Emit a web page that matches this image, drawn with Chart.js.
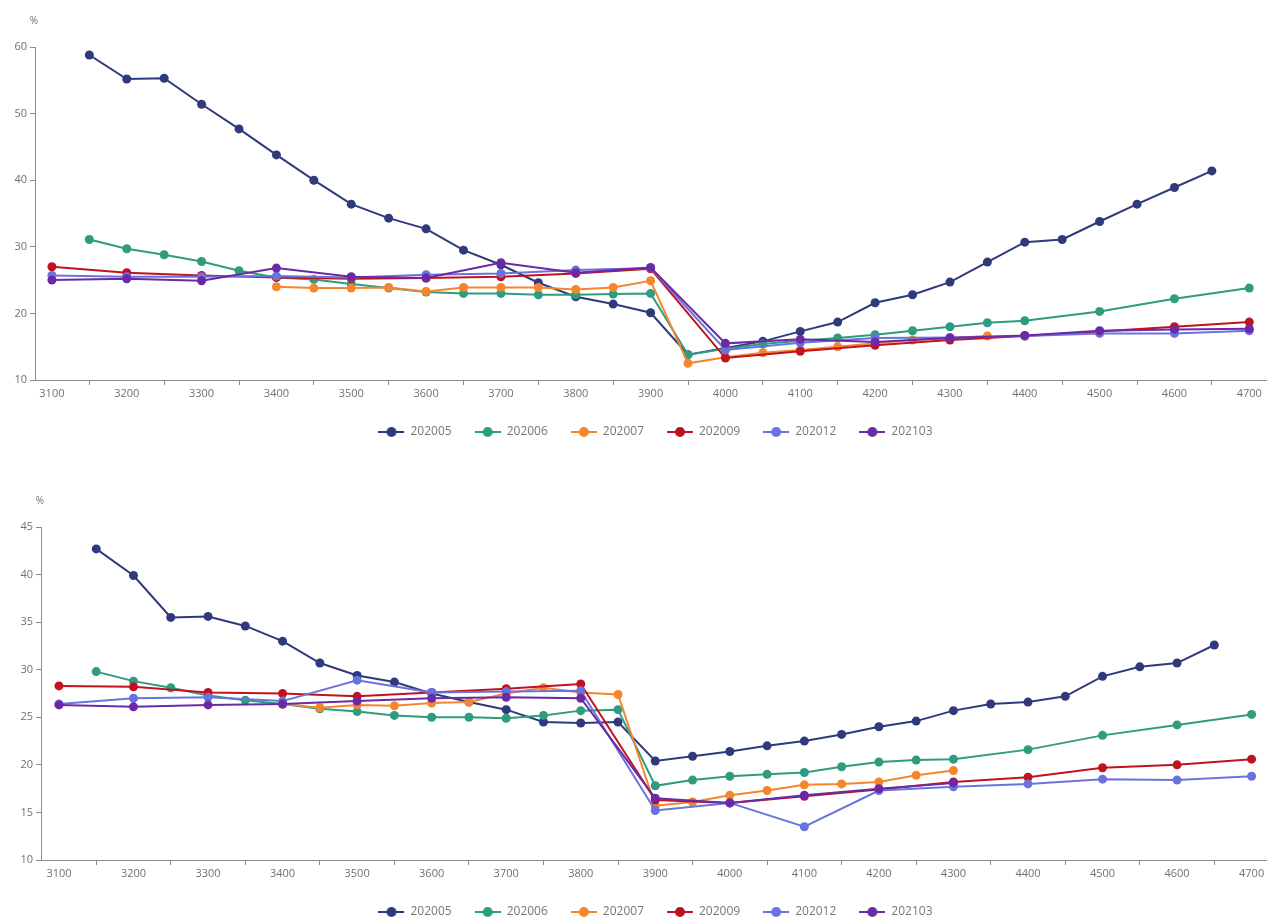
<!DOCTYPE html>
<html>
<head>
<meta charset="utf-8">
<script src="https://cdn.jsdelivr.net/npm/chart.js@4.4.1/dist/chart.umd.min.js"></script>
<style>
  html, body { margin: 0; padding: 0; background: #fff; overflow: hidden; width: 1271px; height: 918px; }
  .box { position: absolute; left: 0; width: 1271px; height: 448px; }
  #top { top: 0; }
  #bottom { top: 480px; }
</style>
</head>
<body>
<div class="box" id="top"><canvas id="chartTop"></canvas></div>
<div class="box" id="bottom"><canvas id="chartBottom"></canvas></div>
<script>
// Strike levels along the x axis (every 50; labels shown every 100)
const strikes = [3100, 3150, 3200, 3250, 3300, 3350, 3400, 3450, 3500, 3550, 3600, 3650,
                 3700, 3750, 3800, 3850, 3900, 3950, 4000, 4050, 4100, 4150, 4200, 4250,
                 4300, 4350, 4400, 4450, 4500, 4550, 4600, 4650, 4700];

const seriesNames = ['202005', '202006', '202007', '202009', '202012', '202103'];
const seriesColors = ['#2f3a7c', '#2e9c7e', '#f5862b', '#c1121f', '#6a73dd', '#6b2aa5'];

const yTicksTop = [10, 20, 30, 40, 50, 60];
const yTicksBottom = [10, 15, 20, 25, 30, 35, 40, 45];

// Upper panel (values in %, one slot per strike, null = no quote)
const top202005 = [null, 58.8, 55.2, 55.3, 51.4, 47.7, 43.8, 40.0, 36.4, 34.3, 32.7, 29.5,
                   27.3, 24.6, 22.5, 21.4, 20.1, 13.8, 14.8, 15.8, 17.3, 18.7, 21.6, 22.8,
                   24.7, 27.7, 30.7, 31.1, 33.8, 36.4, 38.9, 41.4, null];
const top202006 = [null, 31.1, 29.7, 28.8, 27.8, 26.4, 25.4, 25.1, 24.4, 23.8, 23.2, 23.0,
                   23.0, 22.8, 22.8, 22.9, 23.0, 13.8, 14.7, 15.4, 15.9, 16.3, 16.8, 17.4,
                   18.0, 18.6, 18.9, null, 20.3, null, 22.2, null, 23.8];
const top202007 = [null, null, null, null, null, null, 24.0, 23.8, 23.8, 23.9, 23.3, 23.9,
                   23.9, 23.9, 23.6, 23.9, 24.9, 12.5, 13.4, 14.1, 14.5, 15.0, 15.5, 16.0,
                   16.3, 16.6, null, null, null, null, null, null, null];
const top202009 = [27.0, null, 26.1, null, 25.7, null, 25.4, null, 25.2, null, 25.3, null,
                   25.5, null, 26.0, null, 26.7, null, 13.3, null, 14.3, null, 15.2, null,
                   16.0, null, 16.6, null, 17.3, null, 18.0, null, 18.7];
const top202012 = [25.7, null, 25.5, null, 25.5, null, 25.6, null, 25.4, null, 25.8, null,
                   26.0, null, 26.5, null, 26.8, null, 14.5, null, 15.6, null, 16.3, null,
                   16.4, null, 16.6, null, 17.0, null, 17.0, null, 17.4];
const top202103 = [25.0, null, 25.2, null, 24.9, null, 26.8, null, 25.5, null, 25.3, null,
                   27.6, null, 26.1, null, 26.9, null, 15.5, null, 16.1, null, 15.7, null,
                   16.3, null, 16.7, null, 17.4, null, 17.6, null, 17.7];

// Lower panel
const bot202005 = [null, 42.7, 39.9, 35.5, 35.6, 34.6, 33.0, 30.7, 29.4, 28.7, 27.5, 26.6,
                   25.8, 24.5, 24.4, 24.5, 20.4, 20.9, 21.4, 22.0, 22.5, 23.2, 24.0, 24.6,
                   25.7, 26.4, 26.6, 27.2, 29.3, 30.3, 30.7, 32.6, null];
const bot202006 = [null, 29.8, 28.8, 28.1, 27.3, 26.8, 26.4, 25.9, 25.6, 25.2, 25.0, 25.0,
                   24.9, 25.2, 25.7, 25.8, 17.8, 18.4, 18.8, 19.0, 19.2, 19.8, 20.3, 20.5,
                   20.6, null, 21.6, null, 23.1, null, 24.2, null, 25.3];
const bot202007 = [null, null, null, null, null, null, 26.4, 26.0, 26.3, 26.2, 26.5, 26.6,
                   27.5, 28.1, 27.6, 27.4, 15.7, 16.1, 16.8, 17.3, 17.9, 18.0, 18.2, 18.9,
                   19.4, null, null, null, null, null, null, null, null];
const bot202009 = [28.3, null, 28.2, null, 27.6, null, 27.5, null, 27.2, null, 27.6, null,
                   28.0, null, 28.5, null, 16.3, null, 16.0, null, 16.7, null, 17.4, null,
                   18.2, null, 18.7, null, 19.7, null, 20.0, null, 20.6];
const bot202012 = [26.4, null, 27.0, null, 27.1, null, 26.7, null, 28.9, null, 27.6, null,
                   27.7, null, 27.8, null, 15.2, null, 16.0, null, 13.5, null, 17.3, null,
                   17.7, null, 18.0, null, 18.5, null, 18.4, null, 18.8];
const bot202103 = [26.3, null, 26.1, null, 26.3, null, 26.4, null, 26.7, null, 27.0, null,
                   27.1, null, 27.0, null, 16.5, null, 16.0, null, 16.8, null, 17.5, null,
                   18.1, null, null, null, null, null, null, null, null];

const axisColor = '#8c8c8c';
const labelColor = '#6e7079';
const fontFamily = '"Open Sans", "Noto Sans", sans-serif';

// Legend marker: short line with a dot in the middle
function legendIcon(color) {
  const c = document.createElement('canvas');
  c.width = 26; c.height = 12;
  const g = c.getContext('2d');
  g.strokeStyle = color; g.lineWidth = 2;
  g.beginPath(); g.moveTo(0, 6); g.lineTo(26, 6); g.stroke();
  g.fillStyle = color;
  g.beginPath(); g.arc(13, 6, 5, 0, Math.PI * 2); g.fill();
  return c;
}
const legendIcons = seriesColors.map(legendIcon);

// "%" unit above the value axis
const unitLabel = {
  id: 'unitLabel',
  afterDraw(chart) {
    const { ctx, chartArea } = chart;
    ctx.save();
    ctx.fillStyle = labelColor;
    ctx.font = '10px ' + fontFamily;
    ctx.textAlign = 'center';
    ctx.fillText('%', chartArea.left - 1, chartArea.top - 26);
    ctx.restore();
  }
};

// nudge the legend row to the right
const legendShift = {
  id: 'legendShift',
  afterLayout(chart) {
    if (chart.legend) { chart.legend.left += 40; }
  }
};

function buildChart(canvasId, values, cfg) {
  // first dataset paints on top, so feed them in reverse and flip the legend back
  const datasets = values.map((data, i) => ({
    label: seriesNames[i],
    data: data,
    borderColor: seriesColors[i],
    backgroundColor: seriesColors[i],
    pointBackgroundColor: seriesColors[i],
    pointBorderColor: seriesColors[i],
    pointBorderWidth: 0,
    pointRadius: 4.5,
    borderWidth: 2,
    spanGaps: true,
    tension: 0
  })).reverse();

  return new Chart(document.getElementById(canvasId), {
    type: 'line',
    data: { labels: strikes, datasets: datasets },
    plugins: [unitLabel, legendShift],
    options: {
      responsive: true,
      maintainAspectRatio: false,
      animation: false,
      layout: { padding: { top: 47, left: 0, right: 0, bottom: 0 } },
      plugins: {
        tooltip: { enabled: false },
        legend: {
          position: 'bottom',
          reverse: true,
          labels: {
            usePointStyle: true,
            pointStyleWidth: 26,
            padding: 23,
            color: '#777',
            font: { size: 12, family: fontFamily },
            generateLabels(chart) {
              const items = Chart.defaults.plugins.legend.labels.generateLabels(chart);
              items.forEach(it => {
                const idx = seriesNames.indexOf(it.text);
                it.pointStyle = legendIcons[idx];
              });
              return items;
            }
          }
        }
      },
      scales: {
        x: {
          type: 'linear',
          min: cfg.xMin,
          max: cfg.xMax,
          afterBuildTicks(scale) { scale.ticks = strikes.map(v => ({ value: v })); },
          afterFit(scale) { scale.height = 23; },
          border: { display: true, color: axisColor, width: 1 },
          grid: {
            drawOnChartArea: false,
            drawTicks: true,
            tickLength: 5,
            tickColor: c => (c.tick && c.tick.value % 100 === 0) ? 'rgba(0,0,0,0)' : axisColor
          },
          ticks: {
            autoSkip: false,
            maxRotation: 0,
            padding: 2,
            color: labelColor,
            font: { size: 11, family: fontFamily },
            callback: v => (v % 100 === 0 ? String(v) : '')
          }
        },
        y: {
          min: cfg.yTicks[0],
          max: cfg.yTicks[cfg.yTicks.length - 1],
          afterBuildTicks(scale) { scale.ticks = cfg.yTicks.map(v => ({ value: v })); },
          afterFit(scale) { scale.width = cfg.axisWidth; },
          border: { display: true, color: axisColor, width: 1 },
          grid: { drawOnChartArea: false, drawTicks: true, tickLength: 5, tickColor: axisColor },
          ticks: { padding: 3, color: labelColor, font: { size: 11, family: fontFamily } }
        }
      }
    }
  });
}

buildChart('chartTop',
  [top202005, top202006, top202007, top202009, top202012, top202103],
  { xMin: 3077.4, xMax: 4723, yTicks: yTicksTop, axisWidth: 35 });

buildChart('chartBottom',
  [bot202005, bot202006, bot202007, bot202009, bot202012, bot202103],
  { xMin: 3075.9, xMax: 4720, yTicks: yTicksBottom, axisWidth: 41 });
</script>
</body>
</html>
